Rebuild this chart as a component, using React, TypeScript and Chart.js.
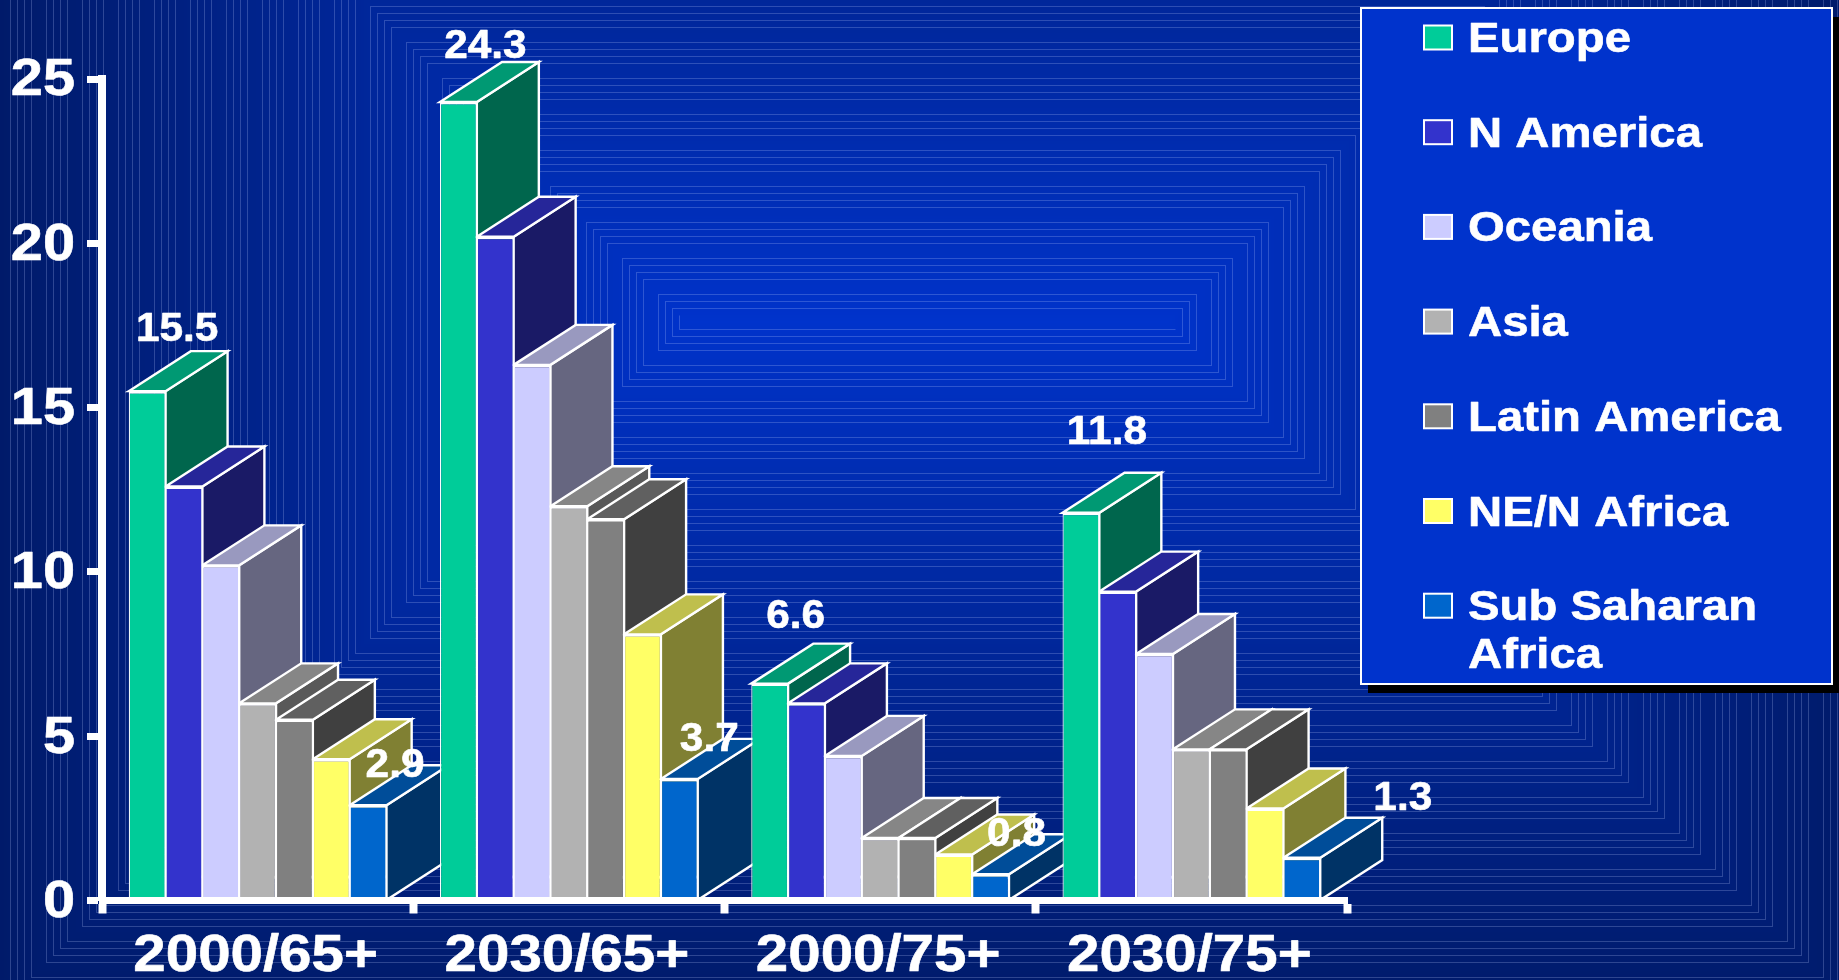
import React, { useEffect, useRef } from "react";
import { Chart, registerables } from "chart.js";

Chart.register(...registerables);

// Share of population by region, age band and year (percent).
const categories = ["2000/65+", "2030/65+", "2000/75+", "2030/75+"];
const seriesNames = ["Europe", "N America", "Oceania", "Asia", "Latin America", "NE/N Africa", "Sub Saharan Africa"];
const seriesColors = ["#00CC99", "#3333CC", "#CCCCFF", "#B2B2B2", "#808080", "#FFFF66", "#0066CC"];

const europe = [15.5, 24.3, 6.6, 11.8];
const nAmerica = [12.6, 20.2, 6.0, 9.4];
const oceania = [10.2, 16.3, 4.4, 7.5];
const asia = [6.0, 12.0, 1.9, 4.6];
const latinAmerica = [5.5, 11.6, 1.9, 4.6];
const neNAfrica = [4.3, 8.1, 1.4, 2.8];
const subSaharanAfrica = [2.9, 3.7, 0.8, 1.3];
const seriesValues = [europe, nAmerica, oceania, asia, latinAmerica, neNAfrica, subSaharanAfrica];

const yTicks = [0, 5, 10, 15, 20, 25];

// Only the first and last series carry value labels; nudges are from the top centre of the bar.
const labelledSeries = [
  { series: 0, nudges: [[31, -61], [28, -55], [27, -67], [27, -80]] },
  { series: 6, nudges: [[28, -39], [31, -39], [27, -39], [102, -59]] },
];

const FONT = '"Liberation Sans", Arial, sans-serif';
const DEPTH_X = 62;
const DEPTH_Y = 40;

function shade(hex: string, k: number) {
  const n = parseInt(hex.slice(1), 16);
  const c = [(n >> 16) & 255, (n >> 8) & 255, n & 255].map((v) => Math.round(v * k));
  return `rgb(${c[0]},${c[1]},${c[2]})`;
}

function stretchedText(
  ctx: CanvasRenderingContext2D,
  text: string,
  x: number,
  y: number,
  size: number,
  sx: number,
  align: CanvasTextAlign,
  baseline: CanvasTextBaseline = "middle"
) {
  ctx.save();
  ctx.translate(x, y);
  ctx.scale(sx, 1);
  ctx.font = `bold ${size}px ${FONT}`;
  ctx.fillStyle = "#FFFFFF";
  ctx.strokeStyle = "#FFFFFF";
  ctx.lineWidth = 0.6;
  ctx.lineJoin = "round";
  ctx.textAlign = align;
  ctx.textBaseline = baseline;
  ctx.fillText(text, 0, 0);
  ctx.strokeText(text, 0, 0);
  ctx.restore();
}

// Dark-to-bright rectangular gradient with groups of thin concentric outlines.
const backdrop = {
  id: "backdrop",
  beforeDraw(chart: any) {
    const { ctx } = chart;
    const cx = 927;
    const cy = 322;
    const core = 241;
    const reach = 700;
    ctx.save();
    for (let d = reach; d >= 0; d -= 3) {
      const t = Math.pow(d / reach, 0.9);
      const g = Math.round(51 - 25 * t);
      const b = Math.round(204 - 100 * t);
      ctx.fillStyle = `rgb(0,${g},${b})`;
      ctx.fillRect(cx - core - d, cy - d, 2 * (core + d), 2 * d);
    }
    ctx.strokeStyle = "rgba(190,205,255,0.24)";
    ctx.lineWidth = 1;
    for (let k = 0; 7 + 36 * k < reach; k++) {
      for (let j = 0; j < 4; j++) {
        const d = 7 + 36 * k + 7 * j;
        if (d === 7) {
          ctx.beginPath();
          ctx.moveTo(cx - core - d + 0.5, cy - d + 0.5);
          ctx.lineTo(cx - core - d + 0.5, cy + d + 0.5);
          ctx.lineTo(cx + core + d + 0.5, cy + d + 0.5);
          ctx.stroke();
        } else {
          ctx.strokeRect(cx - core - d + 0.5, cy - d + 0.5, 2 * (core + d), 2 * d);
        }
      }
    }
    ctx.restore();
  },
};

// Side and top faces of each bar, painted left to right so nearer bars cover farther ones.
const barDepth = {
  id: "barDepth",
  beforeDatasetsDraw(chart: any) {
    const { ctx } = chart;
    ctx.save();
    ctx.strokeStyle = "#FFFFFF";
    ctx.lineWidth = 2.4;
    ctx.lineJoin = "miter";
    const poly = (pts: number[][], fill: string) => {
      ctx.beginPath();
      pts.forEach(([x, y], i) => (i ? ctx.lineTo(x, y) : ctx.moveTo(x, y)));
      ctx.closePath();
      ctx.fillStyle = fill;
      ctx.fill();
      ctx.stroke();
    };
    categories.forEach((_, c) => {
      seriesColors.forEach((color, s) => {
        const el = chart.getDatasetMeta(s).data[c];
        const { x, y, base, width } = el.getProps(["x", "y", "base", "width"], true);
        const l = x - width / 2;
        const r = x + width / 2;
        poly([[r, y], [r + DEPTH_X, y - DEPTH_Y], [r + DEPTH_X, base - DEPTH_Y], [r, base]], shade(color, 0.5));
        poly([[l, y], [l + DEPTH_X, y - DEPTH_Y], [r + DEPTH_X, y - DEPTH_Y], [r, y]], shade(color, 0.75));
      });
    });
    ctx.restore();
  },
};

// Axis text, value labels and the legend panel.
const overlays = {
  id: "overlays",
  afterDraw(chart: any) {
    const { ctx, scales } = chart;
    const { x: xs, y: ys } = scales;

    ys.ticks.forEach((t: any) => {
      stretchedText(ctx, String(t.value), 75, ys.getPixelForValue(t.value) + 2, 52, 1.11, "right");
    });
    categories.forEach((name, i) => {
      stretchedText(ctx, name, xs.getPixelForValue(i) - 2, 957, 52, 1.12, "center");
    });

    labelledSeries.forEach(({ series, nudges }) => {
      const meta = chart.getDatasetMeta(series);
      nudges.forEach(([dx, dy], c) => {
        const el = meta.data[c];
        const { x, y } = el.getProps(["x", "y"], true);
        stretchedText(ctx, seriesValues[series][c].toFixed(1), x + dx - 1, y + dy, 40, 1.06, "center");
      });
    });

    const box = { l: 1361, t: 8, r: 1832, b: 684 };
    ctx.save();
    ctx.fillStyle = "#000000";
    ctx.fillRect(box.l + 7, box.t + 9, box.r - box.l + 7, box.b - box.t);
    ctx.fillStyle = "#0033CC";
    ctx.strokeStyle = "#FFFFFF";
    ctx.lineWidth = 2;
    ctx.fillRect(box.l, box.t, box.r - box.l, box.b - box.t);
    ctx.strokeRect(box.l, box.t, box.r - box.l, box.b - box.t);
    ctx.restore();

    const rowStep = 94.7;
    seriesNames.forEach((name, i) => {
      const baseline = 51 + rowStep * i;
      const cy = baseline - 13.5;
      ctx.save();
      ctx.fillStyle = seriesColors[i];
      ctx.strokeStyle = "#FFFFFF";
      ctx.lineWidth = 2;
      ctx.fillRect(1424, cy - 12, 28, 24);
      ctx.strokeRect(1424, cy - 12, 28, 24);
      ctx.restore();
      const words = name === "Sub Saharan Africa" ? ["Sub Saharan", "Africa"] : [name];
      words.forEach((w, j) => {
        stretchedText(ctx, w, 1468, baseline + 1 + j * 48, 43, 1.1, "left", "alphabetic");
      });
    });
  },
};

export default function App() {
  const ref = useRef<HTMLCanvasElement>(null);

  useEffect(() => {
    if (!ref.current) return;
    const chart = new Chart(ref.current, {
      type: "bar",
      data: {
        labels: categories,
        datasets: seriesNames.map((label, i) => ({
          label,
          data: seriesValues[i],
          backgroundColor: seriesColors[i],
          borderColor: "#FFFFFF",
          borderWidth: { top: 2.5, left: 1.2, right: 1.2, bottom: 0 },
          borderSkipped: false,
          categoryPercentage: 0.828,
          barPercentage: 1,
        })),
      },
      options: {
        responsive: false,
        animation: false,
        layout: { padding: { left: 0, top: 79, right: 492, bottom: 0 } },
        plugins: { legend: { display: false }, tooltip: { enabled: false } },
        scales: {
          x: {
            afterFit: (s: any) => {
              s.height = 79.5;
            },
            grid: { drawOnChartArea: false, drawTicks: true, tickLength: 13, tickWidth: 8, tickColor: "#FFFFFF", z: 1 },
            border: { color: "#FFFFFF", width: 7, z: 1 },
            ticks: { color: "rgba(0,0,0,0)", font: { size: 12 } },
          },
          y: {
            min: 0,
            max: yTicks[yTicks.length - 1],
            afterFit: (s: any) => {
              s.width = 102;
            },
            afterBuildTicks: (s: any) => {
              s.ticks = yTicks.map((value) => ({ value }));
            },
            grid: { drawOnChartArea: false, drawTicks: true, tickLength: 15, tickWidth: 7, tickColor: "#FFFFFF", z: 1 },
            border: { color: "#FFFFFF", width: 8, z: 1 },
            ticks: { color: "rgba(0,0,0,0)", font: { size: 12 } },
          },
        },
      },
      plugins: [backdrop, barDepth, overlays],
    } as any);
    return () => chart.destroy();
  }, []);

  return (
    <div style={{ position: "fixed", left: 0, top: 0, width: 1839, height: 980, overflow: "hidden" }}>
      <canvas ref={ref} width={1839} height={980} style={{ display: "block" }} />
    </div>
  );
}
